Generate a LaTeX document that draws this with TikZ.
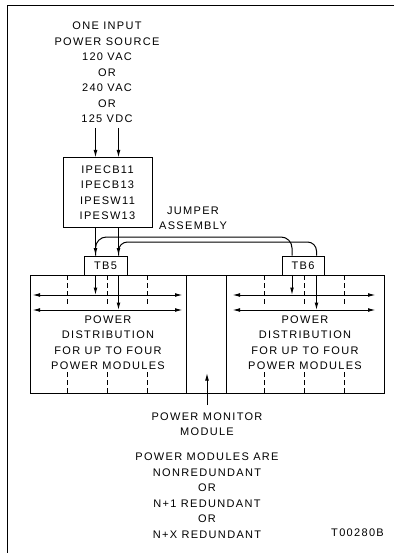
\documentclass[tikz,border=0pt]{standalone}
\usepackage{fontspec}
\setmainfont{Liberation Sans}[LetterSpace=12]
\usetikzlibrary{arrows.meta}
\tikzset{
  wire/.style   = {line width=1pt},
  arr/.style    = {line width=1pt, -{Latex[length=7.5pt,width=3.8pt]}},
  darr/.style   = {line width=1pt, {Latex[length=7.5pt,width=3.8pt]}-{Latex[length=7.5pt,width=3.8pt]}},
  dwire/.style  = {line width=1pt, dash pattern=on 5pt off 3pt},
  blk/.style    = {draw, line width=1pt, inner sep=0pt, align=center,
                   font=\fontsize{11}{15.5}\selectfont},
  lbl/.style    = {inner sep=0pt, align=center, font=\fontsize{11}{15.5}\selectfont},
}
\begin{document}
\begin{tikzpicture}[x=1pt,y=-1pt]
  \useasboundingbox (0,0) rectangle (394,553);
  % frame
  \draw[wire] (394,6) -- (7,6) -- (7,553);
  % source and breaker
  \node[lbl] (src) at (107,72.5) {ONE INPUT\\POWER SOURCE\\120 VAC\\OR\\240 VAC\\OR\\125 VDC};
  \node[blk, minimum width=89pt, minimum height=69pt] (ipe) at (107.5,192.5)
    {IPECB11\\IPECB13\\IPESW11\\IPESW13};
  \node[blk, minimum width=43pt, minimum height=19pt] (tbfive) at (105.5,265.5) {TB5};
  \node[blk, minimum width=42pt, minimum height=19pt] (tbsix) at (303,265.5) {TB6};
  \node[lbl] (jmp) at (193,218.5) {JUMPER\\ASSEMBLY};
  % distribution boxes
  \node[blk, minimum width=156pt, minimum height=118pt] (distl) at (108,334) {};
  \node[blk, minimum width=40pt, minimum height=118pt] (mon) at (206,334) {};
  \node[blk, minimum width=158pt, minimum height=118pt] (distr) at (305,334) {};
  \node[lbl] (txtl) at (108,342.5) {POWER\\DISTRIBUTION\\FOR UP TO FOUR\\POWER MODULES};
  \node[lbl] (txtr) at (305,342.5) {POWER\\DISTRIBUTION\\FOR UP TO FOUR\\POWER MODULES};
  \node[lbl] (monl) at (207,424) {POWER MONITOR\\MODULE};
  \node[lbl] (red) at (207,495.5) {POWER MODULES ARE\\NONREDUNDANT\\OR\\N+1 REDUNDANT\\OR\\N+X REDUNDANT};
  \node[lbl, anchor=east] (tag) at (384,533) {T00280B};
  % x positions of the feed wires
  \coordinate (fa) at (95.5,0);
  \coordinate (fb) at (118.5,0);
  \coordinate (ga) at (292,0);
  \coordinate (gb) at (316.5,0);
  \coordinate (ja) at (0,237);
  \coordinate (jb) at (0,242);
  \coordinate (ha) at (0,295);
  \coordinate (hb) at (0,310);
  \coordinate (mt) at (207,373);
  \coordinate (mb) at (207,405);
  % feeds
  \draw[arr] (fa |- 0,128) -- (fa |- ipe.north);
  \draw[arr] (fb |- 0,128) -- (fb |- ipe.north);
  \draw[arr] (fa |- ipe.south) -- (fa |- tbfive.north);
  \draw[arr] (fb |- ipe.south) -- (fb |- tbfive.north);
  % jumper assembly
  \draw[wire, rounded corners=11pt] (fa |- tbfive.north) |- (ga |- ja) -- (ga |- tbsix.north);
  \draw[wire, rounded corners=9pt] (fb |- tbfive.north) |- (gb |- jb) -- (gb |- tbsix.north);
  % drops to the buses
  \draw[arr] (fa |- tbfive.south) -- (fa |- ha);
  \draw[arr] (fb |- tbfive.south) -- (fb |- hb);
  \draw[arr] (ga |- tbsix.south) -- (ga |- ha);
  \draw[arr] (gb |- tbsix.south) -- (gb |- hb);
  \draw[darr] ([xshift=3pt]distl.west |- ha) -- ([xshift=-4pt]distl.east |- ha);
  \draw[darr] ([xshift=3pt]distl.west |- hb) -- ([xshift=-4pt]distl.east |- hb);
  \draw[darr] ([xshift=7pt]distr.west |- ha) -- ([xshift=-9pt]distr.east |- ha);
  \draw[darr] ([xshift=7pt]distr.west |- hb) -- ([xshift=-9pt]distr.east |- hb);
  % module slots
  \foreach \x in {67,107,147,264,304,344}{
    \draw[dwire] (\x,275) -- (\x,305);
    \draw[dwire] (\x,393) -- (\x,370);
  }
  \draw[arr] (mb) -- (mt);
\end{tikzpicture}
\end{document}
